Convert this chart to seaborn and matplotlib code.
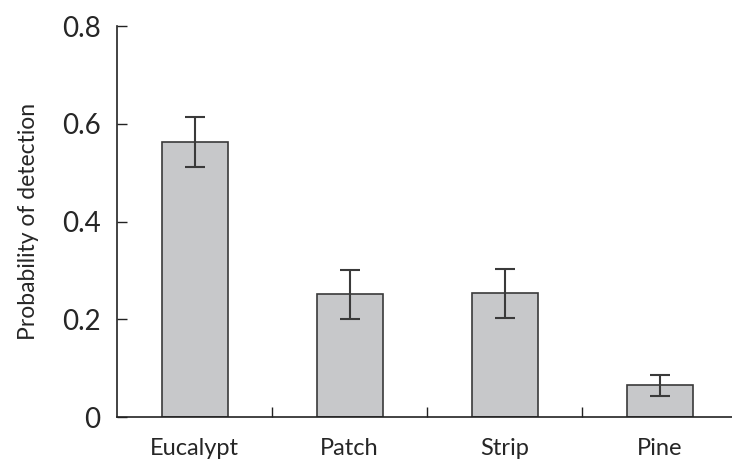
import pandas as pd
import matplotlib
matplotlib.use("Agg")
import matplotlib.pyplot as plt
import seaborn as sns
from matplotlib.ticker import FixedLocator

# values
habitats = ["Eucalypt", "Patch", "Strip", "Pine"]
prob_detect = [0.563, 0.251, 0.253, 0.065]
prob_err = [0.051, 0.050, 0.050, 0.021]
y_ticks = [0, 0.2, 0.4, 0.6, 0.8]
y_tick_labels = ["0", "0.2", "0.4", "0.6", "0.8"]

df = pd.DataFrame({"habitat": habitats, "prob": prob_detect, "err": prob_err})

sns.set_style("white")
plt.rcParams["font.family"] = ["Lato", "DejaVu Sans"]

fig = plt.figure(figsize=(7.32, 4.66), dpi=100)
ax = fig.add_axes([0.160, 0.105, 0.840, 0.839])

sns.barplot(data=df, x="habitat", y="prob", order=habitats, width=0.425,
            color="#c7c8ca", edgecolor="#3a3a3a", linewidth=1.2,
            errorbar=None, saturation=1, ax=ax)
ax.errorbar(range(len(habitats)), df["prob"], yerr=df["err"], fmt="none",
            ecolor="#3a3a3a", elinewidth=1.5, capsize=7.5, capthick=1.5)

ax.set_xlim(-0.5, 3.466)
ax.set_ylim(0, 0.8)
ax.set_yticks(y_ticks)
ax.set_yticklabels(y_tick_labels)

sns.despine(ax=ax)
for s in ["left", "bottom"]:
    ax.spines[s].set_color("#222222")
    ax.spines[s].set_linewidth(1.2)

# tick marks between categories, labels centred under bars
ax.xaxis.set_minor_locator(FixedLocator([0.5, 1.5, 2.5]))
ax.tick_params(axis="x", which="major", length=0, pad=15, labelsize=17)
ax.tick_params(axis="x", which="minor", bottom=True, direction="in",
               length=7, width=1, color="#222222")
ax.tick_params(axis="y", left=True, direction="in", length=7, width=1,
               color="#222222", pad=12, labelsize=20)

ax.set_xlabel("")
ax.set_ylabel("Probability of detection", fontsize=16.5, labelpad=16)

fig.savefig("out.png", dpi=100)
